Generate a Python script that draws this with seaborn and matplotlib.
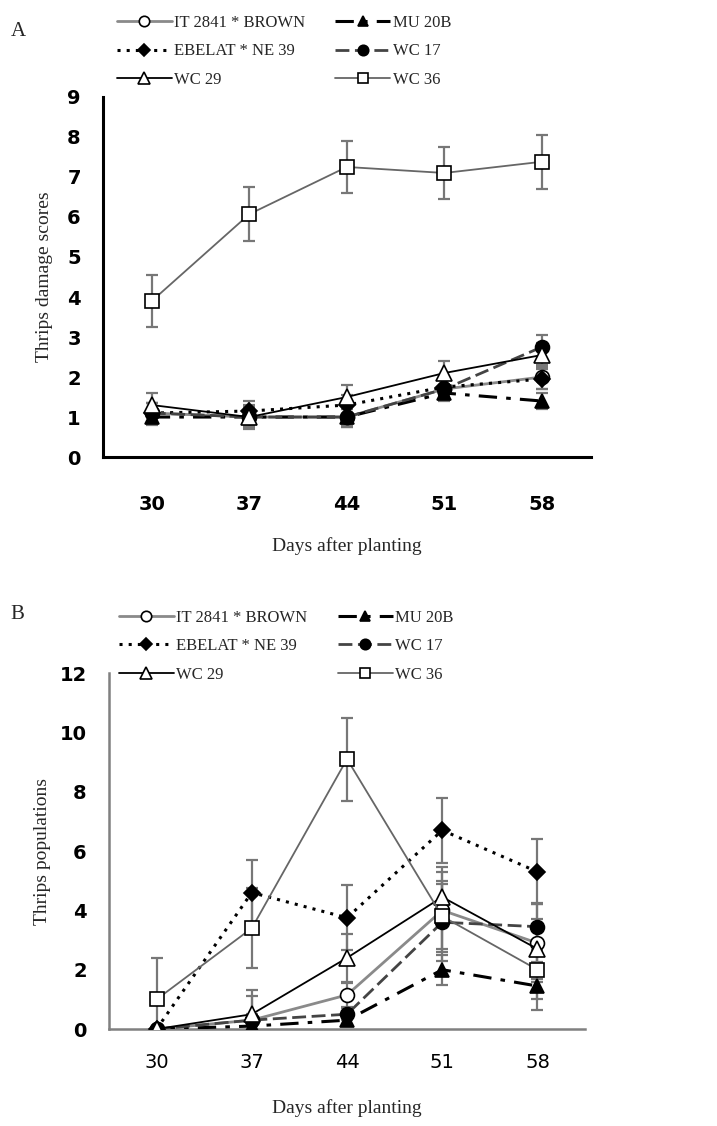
import matplotlib
matplotlib.use("Agg")
import matplotlib.pyplot as plt
import seaborn as sns
import pandas as pd

days = [30, 37, 44, 51, 58]
names = ["IT 2841 * BROWN", "MU 20B", "EBELAT * NE 39", "WC 17", "WC 29", "WC 36"]

# panel A: thrips damage scores
dmg_it2841 = [1.1, 1.0, 1.0, 1.7, 2.0]
dmg_mu20b = [1.0, 1.0, 1.0, 1.6, 1.4]
dmg_ebelat = [1.1, 1.15, 1.3, 1.75, 1.95]
dmg_wc17 = [1.1, 1.0, 1.0, 1.7, 2.75]
dmg_wc29 = [1.3, 1.0, 1.5, 2.1, 2.55]
dmg_wc36 = [3.9, 6.07, 7.25, 7.1, 7.38]
dmg_err_it2841 = [0.25, 0.25, 0.25, 0.25, 0.3]
dmg_err_mu20b = [0.2, 0.2, 0.2, 0.2, 0.2]
dmg_err_ebelat = [0.25, 0.25, 0.25, 0.25, 0.25]
dmg_err_wc17 = [0.25, 0.25, 0.25, 0.25, 0.3]
dmg_err_wc29 = [0.3, 0.3, 0.3, 0.3, 0.3]
dmg_err_wc36 = [0.65, 0.68, 0.65, 0.65, 0.68]

# panel B: thrips populations
pop_it2841 = [0.0, 0.3, 1.15, 4.0, 2.9]
pop_mu20b = [0.0, 0.1, 0.3, 2.0, 1.45]
pop_ebelat = [0.0, 4.6, 3.75, 6.7, 5.3]
pop_wc17 = [0.0, 0.3, 0.5, 3.6, 3.45]
pop_wc29 = [0.0, 0.5, 2.4, 4.45, 2.7]
pop_wc36 = [1.0, 3.4, 9.1, 3.8, 2.0]
pop_err_it2841 = [0.0, 0.8, 0.4, 1.3, 1.3]
pop_err_mu20b = [0.0, 0.2, 0.2, 0.5, 0.8]
pop_err_ebelat = [0.0, 1.1, 1.1, 1.1, 1.1]
pop_err_wc17 = [0.0, 0.2, 0.2, 1.3, 0.8]
pop_err_wc29 = [0.0, 0.8, 0.8, 1.0, 1.0]
pop_err_wc36 = [1.4, 1.35, 1.4, 1.2, 1.0]

dmg = [dmg_it2841, dmg_mu20b, dmg_ebelat, dmg_wc17, dmg_wc29, dmg_wc36]
dmg_err = [dmg_err_it2841, dmg_err_mu20b, dmg_err_ebelat, dmg_err_wc17, dmg_err_wc29, dmg_err_wc36]
pop = [pop_it2841, pop_mu20b, pop_ebelat, pop_wc17, pop_wc29, pop_wc36]
pop_err = [pop_err_it2841, pop_err_mu20b, pop_err_ebelat, pop_err_wc17, pop_err_wc29, pop_err_wc36]

sns.set_style("white")
plt.rcParams['font.family'] = ['Liberation Serif', 'DejaVu Serif']

tick_font = dict(family=['Liberation Sans Narrow', 'DejaVu Sans'], weight='bold', size=14)

# line styles per series (linestyle, colour, marker, face, width)
styles = [
    ("-", "#8a8a8a", "o", "white", 2.0),
    ((0, (6, 3, 1.5, 3)), "black", "^", "black", 2.2),
    ((0, (1, 2)), "black", "D", "black", 2.2),
    ((0, (5, 2)), "#444444", "o", "black", 2.0),
    ("-", "black", "^", "white", 1.3),
    ("-", "#666666", "s", "white", 1.3),
]
msizes = [10, 10, 8, 10, 11, 10]

fig = plt.figure(figsize=(7.17, 11.26), dpi=100)
axA = fig.add_axes([0.1437, 0.5941, 0.68, 0.3198])
axB = fig.add_axes([0.152, 0.0861, 0.664, 0.3162])


def draw(ax, values, errs, spine_col, spine_w):
    for name, y, e, st, ms in zip(names, values, errs, styles, msizes):
        ls, col, mk, face, lw = st
        ax.errorbar(days, y, yerr=e, fmt="none", ecolor="#777777",
                    elinewidth=1.6, capsize=4, capthick=1.6, zorder=2)
        df = pd.DataFrame({"day": days, "v": y})
        sns.lineplot(data=df, x="day", y="v", ax=ax, color=col, linewidth=lw,
                     linestyle=ls, marker=mk, markersize=ms,
                     markerfacecolor=face, markeredgecolor="black",
                     markeredgewidth=1.2, label=name, zorder=3)
    for s in ["top", "right"]:
        ax.spines[s].set_visible(False)
    for s in ["left", "bottom"]:
        ax.spines[s].set_color(spine_col)
        ax.spines[s].set_linewidth(spine_w)
    ax.set_xlim(26.5, 61.5)
    ax.set_xticks(days)
    ax.tick_params(axis="both", direction="out", length=6, width=1.2,
                   colors=spine_col, labelcolor="black")
    ax.tick_params(axis="y", pad=10)
    h, l = ax.get_legend_handles_labels()
    ax.get_legend().remove()
    return h


hA = draw(axA, dmg, dmg_err, "black", 2.2)
axA.set_ylim(0, 9)
axA.set_yticks(range(0, 10))
axA.set_ylabel("Thrips damage scores", fontsize=14, labelpad=10)
axA.set_xlabel("Days after planting", fontsize=14, labelpad=17)
for t in axA.get_xticklabels() + axA.get_yticklabels():
    t.set(**tick_font)
axA.tick_params(axis="x", pad=21)

hB = draw(axB, pop, pop_err, "#808080", 1.8)
axB.set_ylim(0, 12)
axB.set_yticks(range(0, 13, 2))
axB.set_ylabel("Thrips populations", fontsize=14, labelpad=6)
axB.set_xlabel("Days after planting", fontsize=14, labelpad=20)
for t in axB.get_yticklabels():
    t.set(**tick_font)
for t in axB.get_xticklabels():
    t.set(family=['Liberation Sans Narrow', 'DejaVu Sans'], size=14)
axB.tick_params(axis="x", pad=11)

order = [0, 2, 4, 1, 3, 5]
leg_kw = dict(ncol=2, loc="upper left", frameon=False, fontsize=12,
              handlelength=3.3, columnspacing=1.8, labelspacing=0.75,
              handletextpad=0.15, markerscale=0.75)
fig.legend([hA[i] for i in order], [names[i] for i in order],
           bbox_to_anchor=(0.142, 1.0), **leg_kw)
fig.legend([hB[i] for i in order], [names[i] for i in order],
           bbox_to_anchor=(0.145, 0.472), **leg_kw)

fig.text(0.015, 0.972, "A", fontsize=15, va="center")
fig.text(0.015, 0.454, "B", fontsize=15, va="center")

fig.savefig("out.png", dpi=100)
